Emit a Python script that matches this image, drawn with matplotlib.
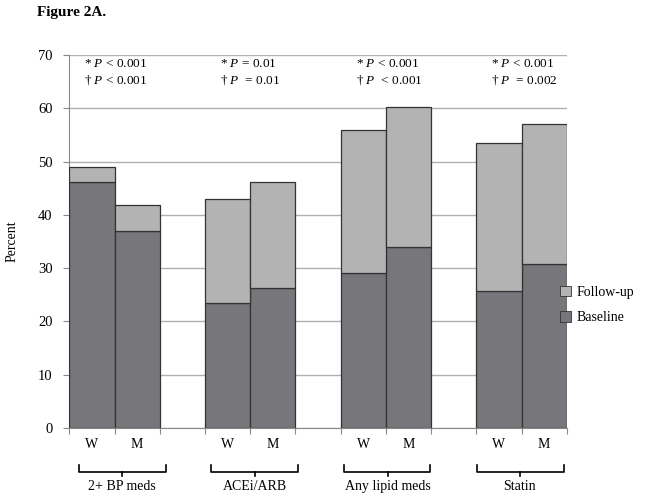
import numpy as np
import matplotlib
matplotlib.use("Agg")
import matplotlib.pyplot as plt
from matplotlib.patches import Patch
import matplotlib.transforms as mtransforms

plt.rcParams['font.family'] = ['Liberation Serif', 'DejaVu Serif']
plt.rcParams['mathtext.fontset'] = 'custom'
plt.rcParams['mathtext.rm'] = 'Liberation Serif'
plt.rcParams['mathtext.it'] = 'Liberation Serif:italic'

# =============================================================================
#                               Data
# =============================================================================
groups = ['2+ BP meds', 'ACEi/ARB', 'Any lipid meds', 'Statin']
sexes = ['W', 'M']
baseline = [46.2, 37.0, 23.5, 26.2, 29.0, 34.0, 25.8, 30.7]
followup_total = [49.0, 41.8, 43.0, 46.2, 56.0, 60.2, 53.4, 57.1]
p_star = ['* $P$ < 0.001', '* $P$ = 0.01', '* $P$ < 0.001', '* $P$ < 0.001']
p_dagger = ['\u2020 $P$ < 0.001', '\u2020 $P$  = 0.01', '\u2020 $P$  < 0.001', '\u2020 $P$  = 0.002']

c_base = '#77777b'
c_fu = '#b3b3b3'
c_edge = '#333333'
c_grid = '#b0b0b0'

# bar slots: W, M, gap repeated
xpos = []
for g in range(len(groups)):
    xpos += [3*g, 3*g + 1]
xpos = np.array(xpos)
base = np.array(baseline)
extra = np.array(followup_total) - base

fig = plt.figure(figsize=(6.56, 4.99), dpi=100)
ax = fig.add_axes([0.1056, 0.1423, 0.7584, 0.7475])

ax.bar(xpos, base, width=1.0, color=c_base, edgecolor=c_edge, linewidth=0.9, zorder=3)
ax.bar(xpos, extra, bottom=base, width=1.0, color=c_fu, edgecolor=c_edge, linewidth=0.9, zorder=3)

ax.set_xlim(-0.5, 10.5)
ax.set_ylim(0, 70)
ax.set_yticks(range(0, 71, 10))
ax.yaxis.grid(True, color=c_grid, linewidth=1.0, zorder=0)
ax.set_axisbelow(True)
for s in ['top', 'right']:
    ax.spines[s].set_visible(False)
ax.spines['left'].set_color('#888888')
ax.spines['bottom'].set_color('#888888')
ax.set_xticks(np.arange(-0.5, 10.6, 1.0))
ax.set_xticklabels([])
ax.tick_params(axis='x', length=4, color='#888888')
ax.tick_params(axis='y', length=4, color='#888888', labelsize=10.5, pad=8)
ax.set_ylabel('Percent', fontsize=10, labelpad=14)

trans = mtransforms.blended_transform_factory(ax.transData, ax.transAxes)

# W / M labels
for i, x in enumerate(xpos):
    ax.text(x, -0.045, sexes[i % 2], transform=trans, ha='center', va='center', fontsize=10)

# braces and group labels
brace_l = [-0.29, -0.36, -0.43, -0.48]
brace_r = [1.63, 1.55, 1.48, 1.43]
brace_c = [0.67, 0.60, 0.54, 0.46]
yt, yh, yb = -0.098, -0.118, -0.130
for g, name in enumerate(groups):
    x0 = 3*g
    l, r, c = x0 + brace_l[g], x0 + brace_r[g], x0 + brace_c[g]
    ax.plot([l, l, r, r], [yt, yh, yh, yt], transform=trans, color='black', lw=1.2, clip_on=False)
    ax.plot([c, c], [yh, yb], transform=trans, color='black', lw=1.2, clip_on=False)
    ax.text(c, -0.158, name, transform=trans, ha='center', va='center', fontsize=10)
    ax.text(x0 - 0.17, 68.3, p_star[g], ha='left', va='center', fontsize=9.5)
    ax.text(x0 - 0.17, 65.3, p_dagger[g], ha='left', va='center', fontsize=9.5)

handles = [Patch(facecolor=c_fu, edgecolor=c_edge, linewidth=0.6, label='Follow-up'),
           Patch(facecolor=c_base, edgecolor=c_edge, linewidth=0.6, label='Baseline')]
fig.legend(handles=handles, loc='center left', bbox_to_anchor=(0.835, 0.389), frameon=False,
           fontsize=10, handlelength=0.8, handleheight=0.8, handletextpad=0.4, labelspacing=0.9)

fig.text(0.056, 0.975, 'Figure 2A.', fontsize=11, fontweight='bold', ha='left', va='center')

plt.savefig('out.png', dpi=100)
